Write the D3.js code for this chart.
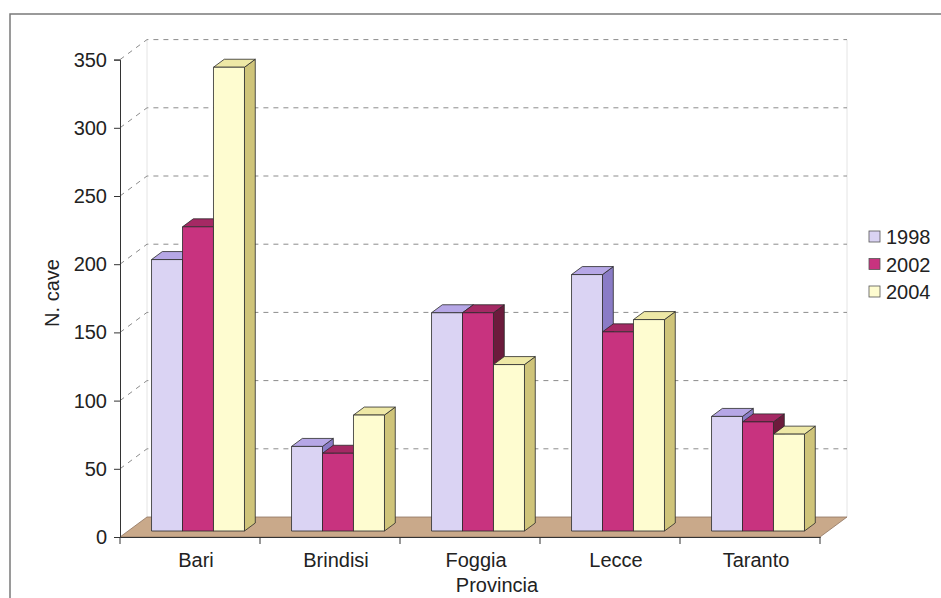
<!DOCTYPE html>
<html>
<head>
<meta charset="utf-8">
<script src="https://cdnjs.cloudflare.com/ajax/libs/d3/7.8.5/d3.min.js"></script>
<style>
  body { margin: 0; background: #fff; }
  text { font-family: "Liberation Sans", Arial, sans-serif; fill: #222; }
</style>
</head>
<body>
<div id="chart"></div>
<script>
(function() {
  'use strict';

  // data
  var categories = ['Bari', 'Brindisi', 'Foggia', 'Lecce', 'Taranto'];
  var years = ['1998', '2002', '2004'];
  var v1998 = [199, 62, 160, 188, 84];
  var v2002 = [223, 57, 160, 146, 80];
  var v2004 = [340, 85, 122, 155, 71];
  var yTicks = [0, 50, 100, 150, 200, 250, 300, 350];

  var seriesValues = [v1998, v2002, v2004];
  var colors = {
    front: ['#dad3f3', '#c8337f', '#fefcd0'],
    top:   ['#b6a7e6', '#a52964', '#eee8a6'],
    side:  ['#8a7cc6', '#6c1b3c', '#cfc47a']
  };

  var W = 941, H = 598,
    left = 120, right = 820, floorY = 537,
    depthX = 27, depthY = -20,       // wall depth
    barOffX = 8, barOffY = -6,       // front face of bars into depth
    barDX = 10.8, barDY = -8;        // bar depth

  var svg = d3.select('#chart').append('svg')
    .attr('width', W)
    .attr('height', H);

  var y = d3.scaleLinear().domain([0, 350]).range([floorY, 59.6]);
  var x0 = d3.scaleBand().domain(categories).range([left, right])
    .paddingInner(0.336).paddingOuter(0.168);
  var x1 = d3.scaleBand().domain(years).range([0, x0.bandwidth()]);

  // frame
  svg.append('path')
    .attr('d', 'M10,' + H + 'V14H' + W)
    .attr('fill', 'none')
    .attr('stroke', '#7a7a7a')
    .attr('stroke-width', 1.5);

  // back wall edges
  svg.append('line')
    .attr('x1', left + depthX).attr('x2', left + depthX)
    .attr('y1', y(0) + depthY).attr('y2', y(350) + depthY)
    .attr('stroke', '#e4e4e4');
  svg.append('line')
    .attr('x1', right + depthX).attr('x2', right + depthX)
    .attr('y1', y(0) + depthY).attr('y2', y(350) + depthY)
    .attr('stroke', '#e4e4e4');

  // gridlines on back wall and side wall
  var grid = svg.append('g')
    .attr('fill', 'none')
    .attr('stroke', '#8c8c8c')
    .attr('stroke-dasharray', '5,5');
  grid.selectAll('path.g')
    .data(yTicks.filter(function(d) { return d > 0; }))
    .enter().append('path')
    .attr('d', function(d) {
      return 'M' + left + ',' + y(d) + 'L' + (left + depthX) + ',' + (y(d) + depthY) +
        'H' + (right + depthX);
    });

  // floor
  svg.append('path')
    .attr('d', 'M' + left + ',' + floorY + 'L' + (left + depthX) + ',' + (floorY + depthY) +
      'H' + (right + depthX) + 'L' + right + ',' + floorY + 'Z')
    .attr('fill', '#c9a98a')
    .attr('stroke', '#8f7460')
    .attr('stroke-width', 0.8);

  // bars
  categories.forEach(function(cat, ci) {
    years.forEach(function(yr, si) {
      var v = seriesValues[si][ci];
      var xl = x0(cat) + x1(yr) + barOffX,
        xr = xl + x1.bandwidth(),
        yt = y(v) + barOffY,
        yb = y(0) + barOffY;
      var g = svg.append('g')
        .attr('stroke', '#2a2a2a')
        .attr('stroke-width', 0.8)
        .attr('stroke-linejoin', 'round');
      g.append('path')
        .attr('d', 'M' + xr + ',' + yt + 'L' + (xr + barDX) + ',' + (yt + barDY) +
          'V' + (yb + barDY) + 'L' + xr + ',' + yb + 'Z')
        .attr('fill', colors.side[si]);
      g.append('path')
        .attr('d', 'M' + xl + ',' + yt + 'L' + (xl + barDX) + ',' + (yt + barDY) +
          'H' + (xr + barDX) + 'L' + xr + ',' + yt + 'Z')
        .attr('fill', colors.top[si]);
      g.append('rect')
        .attr('x', xl).attr('y', yt)
        .attr('width', x1.bandwidth())
        .attr('height', yb - yt)
        .attr('fill', colors.front[si]);
    });
  });

  // y axis
  var yAxis = svg.append('g')
    .attr('transform', 'translate(' + left + ',0)')
    .call(d3.axisLeft(y).tickValues(yTicks).tickSize(6).tickPadding(7));
  yAxis.select('.domain').attr('stroke', '#333');
  yAxis.selectAll('.tick line').attr('stroke', '#333');
  yAxis.selectAll('text')
    .style('font-size', '20px')
    .attr('fill', '#222');

  // x axis
  var xAxis = svg.append('g')
    .attr('transform', 'translate(0,' + floorY + ')')
    .call(d3.axisBottom(x0).tickSize(0).tickPadding(16));
  xAxis.select('.domain').attr('stroke', '#333');
  xAxis.selectAll('text')
    .attr('dx', 6)
    .style('font-size', '20px')
    .attr('fill', '#222');
  xAxis.selectAll('line.sep')
    .data(d3.range(categories.length + 1))
    .enter().append('line')
    .attr('class', 'sep')
    .attr('x1', function(i) { return left + i * x0.step(); })
    .attr('x2', function(i) { return left + i * x0.step(); })
    .attr('y1', 0).attr('y2', 7)
    .attr('stroke', '#333');

  // axis titles
  svg.append('text')
    .attr('transform', 'translate(59,293) rotate(-90)')
    .attr('text-anchor', 'middle')
    .style('font-size', '20px')
    .text('N. cave');
  svg.append('text')
    .attr('x', 497).attr('y', 592)
    .attr('text-anchor', 'middle')
    .style('font-size', '20px')
    .text('Provincia');

  // legend
  var legend = svg.append('g')
    .attr('transform', 'translate(869,231)');
  years.forEach(function(yr, i) {
    legend.append('rect')
      .attr('x', 0).attr('y', i * 27.5)
      .attr('width', 11).attr('height', 11)
      .attr('fill', colors.front[i])
      .attr('stroke', '#555')
      .attr('stroke-width', 0.8);
    legend.append('text')
      .attr('x', 17).attr('y', i * 27.5 + 13)
      .style('font-size', '20px')
      .text(yr);
  });
})();
</script>
</body>
</html>
